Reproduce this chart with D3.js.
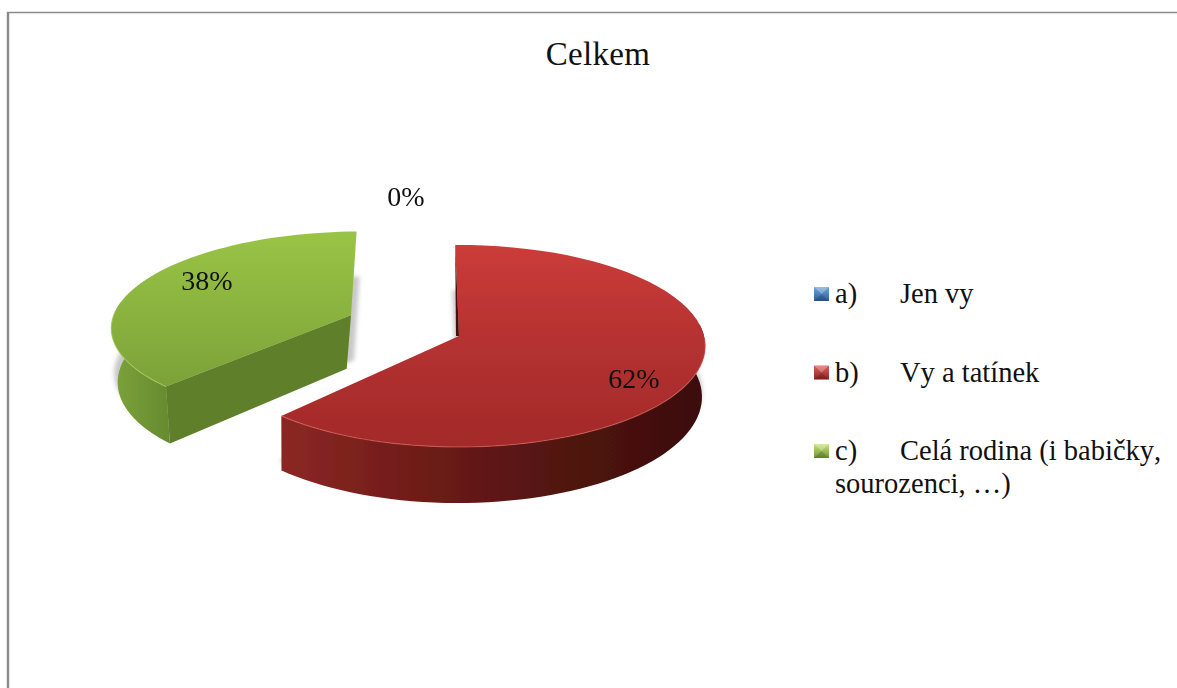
<!DOCTYPE html>
<html><head><meta charset="utf-8">
<script src="https://cdn.jsdelivr.net/npm/d3@7/dist/d3.min.js"></script>
<style>html,body{margin:0;background:#fff;overflow:hidden}svg{display:block}text{font-family:"Liberation Serif",serif;fill:#111;font-kerning:none}</style>
</head><body><svg id="c" width="1177" height="688"></svg>
<script>
// ---- data ----
const categories = ["a)", "b)", "c)"];
const legendText = ["Jen vy", "Vy a tatínek", "Celá rodina (i babičky,"];
const legendSecondLine = ["", "", "sourozenci, …)"];
const values = [0, 62, 38];
const valueLabels = ["0%", "62%", "38%"];
const titleText = "Celkem";

// ---- layout ----
const W = 1177, H = 688;
const cx = 459, cy = 336, rx = 245, ry = 100, persp = 0.099;
const startAngle = -0.017;
const explode = [0, 0, 0.47];
const labelXY = [[406, 206], [634, 388], [207, 290]];
const wallPivot = [0, 300, 255], wallScale = [0, -0.008, -0.045];
const extraDepth = [0, 0, 4];
const greenSquash = {x: 0.985, y: 0.95, ox: 356, oy: 231, dx: -2};
const greenTurn = 0.03;

const svg = d3.select("#c");
const defs = svg.append("defs");
function grad(id, x2, y2, stops) {
  const g = defs.append("linearGradient").attr("id", id).attr("x1", 0).attr("y1", 0).attr("x2", x2).attr("y2", y2);
  stops.forEach(s => g.append("stop").attr("offset", s[0]).attr("stop-color", s[1]));
}
grad("redTop", 0, 1, [[0, "#cb3c39"], [0.55, "#b23030"], [1, "#a32a29"]]);
grad("greenTop", 0, 1, [[0, "#9ac446"], [0.6, "#88b03e"], [1, "#7ca238"]]);
grad("redWall", 1, 0, [[0, "#8c2724"], [0.3, "#711c19"], [0.65, "#521411"], [1, "#3b0e0b"]]);
grad("greenWall", 1, 0, [[0, "#7da33a"], [1, "#668a2e"]]);
grad("mBlue", 0, 1, [[0, "#6fa3da"], [1, "#2f5f97"]]);
grad("mRed", 0, 1, [[0, "#dd5f5b"], [1, "#8e2522"]]);
grad("mGreen", 0, 1, [[0, "#c7e27f"], [1, "#71962f"]]);
const soft = defs.append("filter").attr("id", "soft").attr("x", "-5%").attr("y", "-5%").attr("width", "110%").attr("height", "110%");
soft.append("feGaussianBlur").attr("stdDeviation", 0.6);
const shadowF = defs.append("filter").attr("id", "shadow").attr("x", "-10%").attr("y", "-10%").attr("width", "120%").attr("height", "120%");
shadowF.append("feGaussianBlur").attr("stdDeviation", 2);

// frame
svg.append("line").attr("x1", 8).attr("x2", 8).attr("y1", 12).attr("y2", H).attr("stroke", "#8a8a8a").attr("stroke-width", 2.4);
svg.append("line").attr("x1", 7).attr("x2", W).attr("y1", 12.5).attr("y2", 12.5).attr("stroke", "#8a8a8a").attr("stroke-width", 1.4);

// title
svg.append("text").attr("x", 598).attr("y", 65).attr("text-anchor", "middle").attr("font-size", 33).attr("letter-spacing", 0.3).text(titleText);

const arcs = d3.pie().sort(null).value(d => d).startAngle(startAngle).endAngle(startAngle + 2 * Math.PI)(values);

function project(theta, r, off, mid) {
  const x0 = r * Math.sin(theta) + off * Math.sin(mid);
  const y0 = -r * Math.cos(theta) - off * Math.cos(mid);
  const s = 1 / (1 - persp * y0);
  return [cx + rx * x0 * s, cy + ry * y0 * s];
}
const line = d3.line();
function lower(p, i) {
  const depth = 50.5 + extraDepth[i] + 0.05 * (p[1] - cy);
  return [p[0] + (p[0] - wallPivot[i]) * wallScale[i], p[1] + depth];
}
const sample = (a, b) => d3.range(0, 61).map(k => a + (b - a) * k / 60);
const squash = p => [greenSquash.dx + greenSquash.ox + (p[0] - greenSquash.ox) * greenSquash.x, greenSquash.oy + (p[1] - greenSquash.oy) * greenSquash.y];

const g = svg.append("g").attr("filter", "url(#soft)");
function slice(i, startA, topFill, wallFill, wallFrom, wallTo, radialWall, rim) {
  const a = arcs[i], mid = (a.startAngle + a.endAngle) / 2, off = explode[i];
  const adj = i === 2 ? squash : (p => p);
  const P = t => adj(project(t, 1, off, mid));
  const apex = adj(project(0, 0, off, mid));
  const rimPts = sample(startA, a.endAngle).map(P);
  const surface = line([apex, ...rimPts]) + "Z";
  // soft shadow behind the cut faces
  g.append("path").attr("d", surface).attr("fill", "#777").attr("opacity", 0.4)
    .attr("transform", `translate(${i === 1 ? -3 : 3},${45})`).attr("filter", "url(#shadow)");
  const wallTop = sample(wallFrom, wallTo).map(P);
  const wallBot = wallTop.map(p => lower(p, i)).reverse();
  g.append("path").attr("d", line([...wallTop, ...wallBot]) + "Z").attr("fill", wallFill);
  if (radialWall) {
    const c = P(startA);
    g.append("path").attr("d", line([c, apex, lower(apex, i), lower(c, i)]) + "Z").attr("fill", radialWall);
  }
  g.append("path").attr("d", surface).attr("fill", topFill);
  g.append("path").attr("d", line(sample(rim[0], rim[1]).map(P))).attr("fill", "none")
    .attr("stroke", rim[2]).attr("stroke-width", 1.2).attr("opacity", 0.6);
  return {apex, start: P(startA)};
}

// green slice first (it sits behind the red one's corner)
const green = arcs[2], red = arcs[1];
const gs = green.startAngle + greenTurn;
slice(2, gs, "url(#greenTop)", "url(#greenWall)", gs, gs + 0.95, "#5f7f2b",
  [gs, gs + 0.85, "#b4d267"]);
const r = slice(1, red.startAngle, "url(#redTop)", "url(#redWall)", 1.45, red.endAngle, null,
  [1.6, red.endAngle, "#d9605a"]);
// thin dark sliver of the red slice's cut face
g.append("path").attr("d", line([r.start, r.apex, [r.apex[0] - 3, r.apex[1]], [r.start[0], r.start[1] + 6]]) + "Z").attr("fill", "#4a100e");

// value labels
svg.selectAll("text.v").data(valueLabels).join("text").attr("class", "v")
  .attr("x", (d, i) => labelXY[i][0]).attr("y", (d, i) => labelXY[i][1])
  .attr("text-anchor", "middle").attr("font-size", 28).text(d => d);

// legend
const ly = d3.scalePoint().domain(categories).range([294, 451]);
const color = d3.scaleOrdinal().domain(categories).range(["url(#mBlue)", "url(#mRed)", "url(#mGreen)"]);
const leg = svg.selectAll("g.l").data(categories).join("g").attr("class", "l")
  .attr("transform", d => `translate(0,${ly(d)})`);
leg.append("rect").attr("x", 814).attr("y", -7).attr("width", 15).attr("height", 14).attr("fill", d => color(d));
leg.append("path").attr("d", line([[814, -7], [829, -7], [821.5, 0]]) + "Z").attr("fill", "#fff").attr("opacity", 0.28);
leg.append("path").attr("d", line([[814, 7], [829, 7], [821.5, 0]]) + "Z").attr("fill", "#000").attr("opacity", 0.15);
leg.append("text").attr("x", 835).attr("y", 9).attr("font-size", 28.5).text(d => d);
leg.append("text").attr("x", 900).attr("y", 9).attr("font-size", 28.5).text((d, i) => legendText[i]);
leg.append("text").attr("x", 835).attr("y", 42).attr("font-size", 28.5).text((d, i) => legendSecondLine[i]);
</script></body></html>
